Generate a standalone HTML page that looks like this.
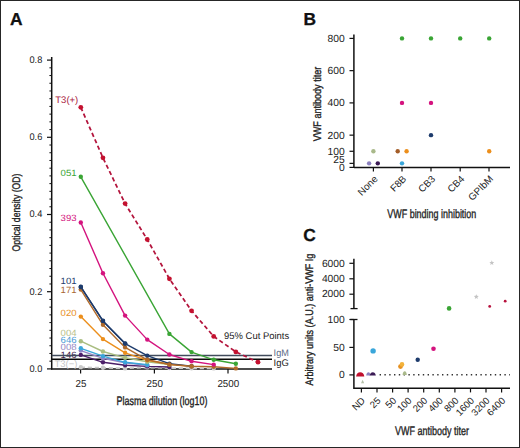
<!DOCTYPE html>
<html><head><meta charset="utf-8"><style>
html,body{margin:0;padding:0;background:#fff;}
svg{display:block;}
text{font-family:"Liberation Sans", sans-serif;text-rendering:geometricPrecision;}
</style></head><body>
<svg width="520" height="448" viewBox="0 0 520 448" font-family='"Liberation Sans", sans-serif'>
<rect x="0" y="0" width="520" height="448" fill="#fff"/>
<text x="9.9" y="24.8" font-size="17.4" font-weight="bold" fill="#111" stroke="#111" stroke-width="0.3">A</text>
<line x1="51.7" y1="57" x2="51.7" y2="369.59999999999997" stroke="#111" stroke-width="1.5"/>
<line x1="47" y1="368.90" x2="51.7" y2="368.90" stroke="#111" stroke-width="1.2"/>
<line x1="49.4" y1="361.18" x2="51.7" y2="361.18" stroke="#111" stroke-width="1"/>
<line x1="49.4" y1="353.46" x2="51.7" y2="353.46" stroke="#111" stroke-width="1"/>
<line x1="49.4" y1="345.74" x2="51.7" y2="345.74" stroke="#111" stroke-width="1"/>
<line x1="49.4" y1="338.02" x2="51.7" y2="338.02" stroke="#111" stroke-width="1"/>
<line x1="49.4" y1="330.30" x2="51.7" y2="330.30" stroke="#111" stroke-width="1"/>
<line x1="49.4" y1="322.58" x2="51.7" y2="322.58" stroke="#111" stroke-width="1"/>
<line x1="49.4" y1="314.86" x2="51.7" y2="314.86" stroke="#111" stroke-width="1"/>
<line x1="49.4" y1="307.14" x2="51.7" y2="307.14" stroke="#111" stroke-width="1"/>
<line x1="49.4" y1="299.42" x2="51.7" y2="299.42" stroke="#111" stroke-width="1"/>
<line x1="47" y1="291.70" x2="51.7" y2="291.70" stroke="#111" stroke-width="1.2"/>
<line x1="49.4" y1="283.98" x2="51.7" y2="283.98" stroke="#111" stroke-width="1"/>
<line x1="49.4" y1="276.26" x2="51.7" y2="276.26" stroke="#111" stroke-width="1"/>
<line x1="49.4" y1="268.54" x2="51.7" y2="268.54" stroke="#111" stroke-width="1"/>
<line x1="49.4" y1="260.82" x2="51.7" y2="260.82" stroke="#111" stroke-width="1"/>
<line x1="49.4" y1="253.10" x2="51.7" y2="253.10" stroke="#111" stroke-width="1"/>
<line x1="49.4" y1="245.38" x2="51.7" y2="245.38" stroke="#111" stroke-width="1"/>
<line x1="49.4" y1="237.66" x2="51.7" y2="237.66" stroke="#111" stroke-width="1"/>
<line x1="49.4" y1="229.94" x2="51.7" y2="229.94" stroke="#111" stroke-width="1"/>
<line x1="49.4" y1="222.22" x2="51.7" y2="222.22" stroke="#111" stroke-width="1"/>
<line x1="47" y1="214.50" x2="51.7" y2="214.50" stroke="#111" stroke-width="1.2"/>
<line x1="49.4" y1="206.78" x2="51.7" y2="206.78" stroke="#111" stroke-width="1"/>
<line x1="49.4" y1="199.06" x2="51.7" y2="199.06" stroke="#111" stroke-width="1"/>
<line x1="49.4" y1="191.34" x2="51.7" y2="191.34" stroke="#111" stroke-width="1"/>
<line x1="49.4" y1="183.62" x2="51.7" y2="183.62" stroke="#111" stroke-width="1"/>
<line x1="49.4" y1="175.90" x2="51.7" y2="175.90" stroke="#111" stroke-width="1"/>
<line x1="49.4" y1="168.18" x2="51.7" y2="168.18" stroke="#111" stroke-width="1"/>
<line x1="49.4" y1="160.46" x2="51.7" y2="160.46" stroke="#111" stroke-width="1"/>
<line x1="49.4" y1="152.74" x2="51.7" y2="152.74" stroke="#111" stroke-width="1"/>
<line x1="49.4" y1="145.02" x2="51.7" y2="145.02" stroke="#111" stroke-width="1"/>
<line x1="47" y1="137.30" x2="51.7" y2="137.30" stroke="#111" stroke-width="1.2"/>
<line x1="49.4" y1="129.58" x2="51.7" y2="129.58" stroke="#111" stroke-width="1"/>
<line x1="49.4" y1="121.86" x2="51.7" y2="121.86" stroke="#111" stroke-width="1"/>
<line x1="49.4" y1="114.14" x2="51.7" y2="114.14" stroke="#111" stroke-width="1"/>
<line x1="49.4" y1="106.42" x2="51.7" y2="106.42" stroke="#111" stroke-width="1"/>
<line x1="49.4" y1="98.70" x2="51.7" y2="98.70" stroke="#111" stroke-width="1"/>
<line x1="49.4" y1="90.98" x2="51.7" y2="90.98" stroke="#111" stroke-width="1"/>
<line x1="49.4" y1="83.26" x2="51.7" y2="83.26" stroke="#111" stroke-width="1"/>
<line x1="49.4" y1="75.54" x2="51.7" y2="75.54" stroke="#111" stroke-width="1"/>
<line x1="49.4" y1="67.82" x2="51.7" y2="67.82" stroke="#111" stroke-width="1"/>
<line x1="47" y1="60.10" x2="51.7" y2="60.10" stroke="#111" stroke-width="1.2"/>
<text x="42.3" y="371.70" font-size="9.7" text-anchor="end" textLength="12.8" lengthAdjust="spacingAndGlyphs" fill="#222">0.0</text>
<text x="42.3" y="294.50" font-size="9.7" text-anchor="end" textLength="12.8" lengthAdjust="spacingAndGlyphs" fill="#222">0.2</text>
<text x="42.3" y="217.30" font-size="9.7" text-anchor="end" textLength="12.8" lengthAdjust="spacingAndGlyphs" fill="#222">0.4</text>
<text x="42.3" y="140.10" font-size="9.7" text-anchor="end" textLength="12.8" lengthAdjust="spacingAndGlyphs" fill="#222">0.6</text>
<text x="42.3" y="62.90" font-size="9.7" text-anchor="end" textLength="12.8" lengthAdjust="spacingAndGlyphs" fill="#222">0.8</text>
<text transform="translate(20.2,212.5) rotate(-90)" font-size="11" text-anchor="middle" textLength="78" lengthAdjust="spacingAndGlyphs" fill="#222" stroke="#222" stroke-width="0.35">Optical density (OD)</text>
<text x="116.6" y="404.6" font-size="12.3" textLength="90.8" lengthAdjust="spacingAndGlyphs" fill="#222" stroke="#222" stroke-width="0.35">Plasma dilution (log10)</text>
<line x1="51.0" y1="368.9" x2="272" y2="368.9" stroke="#111" stroke-width="1.5"/>
<line x1="80.6" y1="368.9" x2="80.6" y2="373.6" stroke="#111" stroke-width="1.2"/>
<text x="80.89999999999999" y="386.7" font-size="10.1" text-anchor="middle" textLength="10.9" lengthAdjust="spacingAndGlyphs" fill="#222">25</text>
<line x1="154.4" y1="368.9" x2="154.4" y2="373.6" stroke="#111" stroke-width="1.2"/>
<text x="154.70000000000002" y="386.7" font-size="10.1" text-anchor="middle" textLength="16.4" lengthAdjust="spacingAndGlyphs" fill="#222">250</text>
<line x1="228.0" y1="368.9" x2="228.0" y2="373.6" stroke="#111" stroke-width="1.2"/>
<text x="228.3" y="386.7" font-size="10.1" text-anchor="middle" textLength="21.8" lengthAdjust="spacingAndGlyphs" fill="#222">2500</text>
<text x="55.3" y="103.2" font-size="9.5" fill="#a8163a">T3(+)</text>
<text x="60.6" y="175.6" font-size="9.1" textLength="16" lengthAdjust="spacingAndGlyphs" fill="#3aa535">051</text>
<text x="60.6" y="220.9" font-size="9.1" textLength="16" lengthAdjust="spacingAndGlyphs" fill="#d4137e">393</text>
<text x="60.6" y="293.2" font-size="9.1" textLength="16" lengthAdjust="spacingAndGlyphs" fill="#a86630">171</text>
<text x="60.6" y="284.3" font-size="9.1" textLength="16" lengthAdjust="spacingAndGlyphs" fill="#1d3b6c">101</text>
<text x="60.6" y="315.6" font-size="9.1" textLength="16" lengthAdjust="spacingAndGlyphs" fill="#e8901e">020</text>
<text x="60.6" y="335.6" font-size="9.1" textLength="16" lengthAdjust="spacingAndGlyphs" fill="#b9c08a">004</text>
<text x="60.6" y="342.8" font-size="9.1" textLength="16" lengthAdjust="spacingAndGlyphs" fill="#4a9bd6">646</text>
<text x="60.6" y="350.2" font-size="9.1" textLength="16" lengthAdjust="spacingAndGlyphs" fill="#9487c4">008</text>
<text x="60.6" y="357.9" font-size="9.1" textLength="16" lengthAdjust="spacingAndGlyphs" fill="#3d2048">146</text>
<text x="54.4" y="366.9" font-size="9.5" fill="#c5c5c5">T3(&#8722;)</text>
<line x1="51.7" y1="355.5" x2="272" y2="355.5" stroke="#414b5c" stroke-width="1.5"/>
<line x1="51.7" y1="359.3" x2="272" y2="359.3" stroke="#0a0a0a" stroke-width="1.5"/>
<text x="273.6" y="355.6" font-size="9.6" textLength="15.2" lengthAdjust="spacingAndGlyphs" fill="#5a6b85">IgM</text>
<text x="273.6" y="365.7" font-size="9.6" textLength="15.2" lengthAdjust="spacingAndGlyphs" fill="#1a1a1a">IgG</text>
<text x="224.0" y="339.2" font-size="9.6" textLength="65.2" lengthAdjust="spacingAndGlyphs" fill="#222">95% Cut Points</text>
<polyline points="80.80,367.30 102.95,367.70 125.10,368.40 147.25,367.40 169.40,368.10 191.55,368.30 213.70,368.40" fill="none" stroke="#c9c9c9" stroke-width="1.75" stroke-dasharray="4.2,2.8"/>
<circle cx="80.80" cy="367.30" r="2.2" fill="#c9c9c9"/>
<circle cx="102.95" cy="367.70" r="2.2" fill="#c9c9c9"/>
<circle cx="125.10" cy="368.40" r="2.2" fill="#c9c9c9"/>
<circle cx="147.25" cy="367.40" r="2.2" fill="#c9c9c9"/>
<circle cx="169.40" cy="368.10" r="2.2" fill="#c9c9c9"/>
<circle cx="191.55" cy="368.30" r="2.2" fill="#c9c9c9"/>
<circle cx="213.70" cy="368.40" r="2.2" fill="#c9c9c9"/>
<polyline points="80.80,354.90 102.95,362.30 125.10,365.20 147.25,366.40 169.40,367.00" fill="none" stroke="#4b1e68" stroke-width="1.4" stroke-linejoin="round"/>
<circle cx="80.80" cy="354.90" r="2.2" fill="#4b1e68"/>
<circle cx="102.95" cy="362.30" r="2.2" fill="#4b1e68"/>
<circle cx="125.10" cy="365.20" r="2.2" fill="#4b1e68"/>
<circle cx="147.25" cy="366.40" r="2.2" fill="#4b1e68"/>
<circle cx="169.40" cy="367.00" r="2.2" fill="#4b1e68"/>
<polyline points="80.80,350.60 102.95,358.30 125.10,362.80 147.25,365.30" fill="none" stroke="#9184c6" stroke-width="1.4" stroke-linejoin="round"/>
<circle cx="80.80" cy="350.60" r="2.2" fill="#9184c6"/>
<circle cx="102.95" cy="358.30" r="2.2" fill="#9184c6"/>
<circle cx="125.10" cy="362.80" r="2.2" fill="#9184c6"/>
<circle cx="147.25" cy="365.30" r="2.2" fill="#9184c6"/>
<polyline points="80.80,348.30 102.95,356.10 125.10,362.30 147.25,364.80" fill="none" stroke="#3aa6da" stroke-width="1.4" stroke-linejoin="round"/>
<circle cx="80.80" cy="348.30" r="2.2" fill="#3aa6da"/>
<circle cx="102.95" cy="356.10" r="2.2" fill="#3aa6da"/>
<circle cx="125.10" cy="362.30" r="2.2" fill="#3aa6da"/>
<circle cx="147.25" cy="364.80" r="2.2" fill="#3aa6da"/>
<polyline points="80.80,341.20 102.95,351.50 125.10,357.80 147.25,361.80 169.40,364.50" fill="none" stroke="#a9bd80" stroke-width="1.4" stroke-linejoin="round"/>
<circle cx="80.80" cy="341.20" r="2.2" fill="#a9bd80"/>
<circle cx="102.95" cy="351.50" r="2.2" fill="#a9bd80"/>
<circle cx="125.10" cy="357.80" r="2.2" fill="#a9bd80"/>
<circle cx="147.25" cy="361.80" r="2.2" fill="#a9bd80"/>
<circle cx="169.40" cy="364.50" r="2.2" fill="#a9bd80"/>
<polyline points="80.80,316.60 102.95,339.10 125.10,352.80 147.25,360.30 169.40,364.20 191.55,366.40" fill="none" stroke="#ec8f1c" stroke-width="1.4" stroke-linejoin="round"/>
<circle cx="80.80" cy="316.60" r="2.2" fill="#ec8f1c"/>
<circle cx="102.95" cy="339.10" r="2.2" fill="#ec8f1c"/>
<circle cx="125.10" cy="352.80" r="2.2" fill="#ec8f1c"/>
<circle cx="147.25" cy="360.30" r="2.2" fill="#ec8f1c"/>
<circle cx="169.40" cy="364.20" r="2.2" fill="#ec8f1c"/>
<circle cx="191.55" cy="366.40" r="2.2" fill="#ec8f1c"/>
<polyline points="80.80,286.90 102.95,320.90 125.10,343.60 147.25,355.70 169.40,363.60 191.55,366.20" fill="none" stroke="#1d3b6c" stroke-width="1.4" stroke-linejoin="round"/>
<circle cx="80.80" cy="286.90" r="2.2" fill="#1d3b6c"/>
<circle cx="102.95" cy="320.90" r="2.2" fill="#1d3b6c"/>
<circle cx="125.10" cy="343.60" r="2.2" fill="#1d3b6c"/>
<circle cx="147.25" cy="355.70" r="2.2" fill="#1d3b6c"/>
<circle cx="169.40" cy="363.60" r="2.2" fill="#1d3b6c"/>
<circle cx="191.55" cy="366.20" r="2.2" fill="#1d3b6c"/>
<polyline points="80.80,289.60 102.95,324.80 125.10,347.40 147.25,359.80 169.40,364.50 191.55,366.20 213.70,366.80 235.85,368.40" fill="none" stroke="#b06a2a" stroke-width="1.4" stroke-linejoin="round"/>
<circle cx="80.80" cy="289.60" r="2.2" fill="#b06a2a"/>
<circle cx="102.95" cy="324.80" r="2.2" fill="#b06a2a"/>
<circle cx="125.10" cy="347.40" r="2.2" fill="#b06a2a"/>
<circle cx="147.25" cy="359.80" r="2.2" fill="#b06a2a"/>
<circle cx="169.40" cy="364.50" r="2.2" fill="#b06a2a"/>
<circle cx="191.55" cy="366.20" r="2.2" fill="#b06a2a"/>
<circle cx="213.70" cy="366.80" r="2.2" fill="#b06a2a"/>
<circle cx="235.85" cy="368.40" r="2.2" fill="#b06a2a"/>
<polyline points="80.80,222.50 102.95,273.20 125.10,315.60 147.25,339.60 169.40,354.50 191.55,361.30 213.70,364.60" fill="none" stroke="#d4137e" stroke-width="1.4" stroke-linejoin="round"/>
<circle cx="80.80" cy="222.50" r="2.2" fill="#d4137e"/>
<circle cx="102.95" cy="273.20" r="2.2" fill="#d4137e"/>
<circle cx="125.10" cy="315.60" r="2.2" fill="#d4137e"/>
<circle cx="147.25" cy="339.60" r="2.2" fill="#d4137e"/>
<circle cx="169.40" cy="354.50" r="2.2" fill="#d4137e"/>
<circle cx="191.55" cy="361.30" r="2.2" fill="#d4137e"/>
<circle cx="213.70" cy="364.60" r="2.2" fill="#d4137e"/>
<polyline points="80.80,176.80 169.40,333.90 191.55,352.10 213.70,359.80 235.85,363.80" fill="none" stroke="#3aa535" stroke-width="1.4" stroke-linejoin="round"/>
<circle cx="80.80" cy="176.80" r="2.2" fill="#3aa535"/>
<circle cx="169.40" cy="333.90" r="2.2" fill="#3aa535"/>
<circle cx="191.55" cy="352.10" r="2.2" fill="#3aa535"/>
<circle cx="213.70" cy="359.80" r="2.2" fill="#3aa535"/>
<circle cx="235.85" cy="363.80" r="2.2" fill="#3aa535"/>
<polyline points="80.80,107.30 102.95,157.80 125.10,203.60 147.25,239.50 169.40,278.80 191.55,310.80 213.70,336.40 235.85,351.90 258.00,362.20" fill="none" stroke="#b3143c" stroke-width="1.75" stroke-dasharray="4.2,2.8"/>
<circle cx="80.80" cy="107.30" r="2.4" fill="#c4112f"/>
<circle cx="102.95" cy="157.80" r="2.4" fill="#c4112f"/>
<circle cx="125.10" cy="203.60" r="2.4" fill="#c4112f"/>
<circle cx="147.25" cy="239.50" r="2.4" fill="#c4112f"/>
<circle cx="169.40" cy="278.80" r="2.4" fill="#c4112f"/>
<circle cx="191.55" cy="310.80" r="2.4" fill="#c4112f"/>
<circle cx="213.70" cy="336.40" r="2.4" fill="#c4112f"/>
<circle cx="235.85" cy="351.90" r="2.4" fill="#c4112f"/>
<circle cx="258.00" cy="362.20" r="2.4" fill="#c4112f"/>
<polyline points="80.80,286.90 102.95,320.90 125.10,343.60" fill="none" stroke="#1d3b6c" stroke-width="1.5" stroke-linejoin="round"/>
<circle cx="80.80" cy="286.90" r="2.3" fill="#1d3b6c"/>
<circle cx="102.95" cy="320.90" r="2.3" fill="#1d3b6c"/>
<circle cx="125.10" cy="343.60" r="2.3" fill="#1d3b6c"/>
<text x="303.6" y="24.8" font-size="17.4" font-weight="bold" fill="#111" stroke="#111" stroke-width="0.3">B</text>
<line x1="353.9" y1="34.5" x2="353.9" y2="168.1" stroke="#111" stroke-width="1.5"/>
<line x1="353.9" y1="167.4" x2="510" y2="167.4" stroke="#111" stroke-width="1.5"/>
<line x1="349.5" y1="38.40" x2="353.9" y2="38.40" stroke="#111" stroke-width="1.2"/>
<line x1="349.5" y1="70.65" x2="353.9" y2="70.65" stroke="#111" stroke-width="1.2"/>
<line x1="349.5" y1="102.90" x2="353.9" y2="102.90" stroke="#111" stroke-width="1.2"/>
<line x1="349.5" y1="135.15" x2="353.9" y2="135.15" stroke="#111" stroke-width="1.2"/>
<line x1="349.5" y1="151.28" x2="353.9" y2="151.28" stroke="#111" stroke-width="1.2"/>
<line x1="349.5" y1="163.37" x2="353.9" y2="163.37" stroke="#111" stroke-width="1.2"/>
<line x1="349.5" y1="167.40" x2="353.9" y2="167.40" stroke="#111" stroke-width="1.2"/>
<text x="344.8" y="41.90" font-size="10.3" text-anchor="end" fill="#222">800</text>
<text x="344.8" y="74.30" font-size="10.3" text-anchor="end" fill="#222">600</text>
<text x="344.8" y="106.20" font-size="10.3" text-anchor="end" fill="#222">400</text>
<text x="344.8" y="138.90" font-size="10.3" text-anchor="end" fill="#222">200</text>
<text x="344.8" y="154.70" font-size="10.3" text-anchor="end" fill="#222">100</text>
<text x="344.8" y="162.90" font-size="10.3" text-anchor="end" fill="#222">25</text>
<text x="344.8" y="170.60" font-size="10.3" text-anchor="end" fill="#222">0</text>
<text transform="translate(320.6,104) rotate(-90)" font-size="11" text-anchor="middle" textLength="74.5" lengthAdjust="spacingAndGlyphs" fill="#222" stroke="#222" stroke-width="0.35">VWF antibody titer</text>
<text x="387.3" y="217.8" font-size="12.3" textLength="89" lengthAdjust="spacingAndGlyphs" fill="#222" stroke="#222" stroke-width="0.35">VWF binding inhibition</text>
<line x1="373.4" y1="167.4" x2="373.4" y2="171.6" stroke="#111" stroke-width="1.2"/>
<text transform="translate(378.3,179.5) rotate(-45)" font-size="9.85" text-anchor="end" fill="#222">None</text>
<line x1="402.0" y1="167.4" x2="402.0" y2="171.6" stroke="#111" stroke-width="1.2"/>
<text transform="translate(406.9,179.5) rotate(-45)" font-size="9.85" text-anchor="end" fill="#222">F8B</text>
<line x1="431.0" y1="167.4" x2="431.0" y2="171.6" stroke="#111" stroke-width="1.2"/>
<text transform="translate(435.9,179.5) rotate(-45)" font-size="9.85" text-anchor="end" fill="#222">CB3</text>
<line x1="460.2" y1="167.4" x2="460.2" y2="171.6" stroke="#111" stroke-width="1.2"/>
<text transform="translate(465.1,179.5) rotate(-45)" font-size="9.85" text-anchor="end" fill="#222">CB4</text>
<line x1="489.0" y1="167.4" x2="489.0" y2="171.6" stroke="#111" stroke-width="1.2"/>
<text transform="translate(493.9,179.5) rotate(-45)" font-size="9.85" text-anchor="end" fill="#222">GPIbM</text>
<circle cx="373.4" cy="151.28" r="2.2" fill="#a9b98a"/>
<circle cx="369.1" cy="163.37" r="2.2" fill="#8b80bf"/>
<circle cx="377.8" cy="163.37" r="2.2" fill="#3b1b55"/>
<circle cx="402" cy="38.40" r="2.2" fill="#3aa535"/>
<circle cx="402" cy="102.90" r="2.2" fill="#d4137e"/>
<circle cx="397.7" cy="151.28" r="2.2" fill="#a35d28"/>
<circle cx="406.6" cy="151.28" r="2.2" fill="#ec8f1c"/>
<circle cx="402" cy="163.37" r="2.2" fill="#3aa6da"/>
<circle cx="431" cy="38.40" r="2.2" fill="#3aa535"/>
<circle cx="431" cy="102.90" r="2.2" fill="#d4137e"/>
<circle cx="431" cy="135.15" r="2.2" fill="#1d3b6c"/>
<circle cx="460.2" cy="38.40" r="2.2" fill="#3aa535"/>
<circle cx="489.2" cy="38.40" r="2.2" fill="#3aa535"/>
<circle cx="489.2" cy="151.28" r="2.2" fill="#ec8f1c"/>
<text x="303.3" y="240.6" font-size="17.4" font-weight="bold" fill="#111" stroke="#111" stroke-width="0.3">C</text>
<line x1="353.9" y1="258.7" x2="353.9" y2="308.6" stroke="#111" stroke-width="1.5"/>
<line x1="350.5" y1="308.6" x2="357.6" y2="308.6" stroke="#111" stroke-width="1.3"/>
<line x1="349.4" y1="263.3" x2="353.9" y2="263.3" stroke="#111" stroke-width="1.2"/>
<text x="344.8" y="266.5" font-size="10.3" text-anchor="end" fill="#222">6000</text>
<line x1="349.4" y1="278.8" x2="353.9" y2="278.8" stroke="#111" stroke-width="1.2"/>
<text x="344.8" y="282.0" font-size="10.3" text-anchor="end" fill="#222">4000</text>
<line x1="349.4" y1="294.2" x2="353.9" y2="294.2" stroke="#111" stroke-width="1.2"/>
<text x="344.8" y="297.4" font-size="10.3" text-anchor="end" fill="#222">2000</text>
<line x1="353.9" y1="319.5" x2="353.9" y2="388.9" stroke="#111" stroke-width="1.5"/>
<line x1="350.3" y1="319.5" x2="357.5" y2="319.5" stroke="#111" stroke-width="1.3"/>
<line x1="349.4" y1="319.5" x2="353.9" y2="319.5" stroke="#111" stroke-width="1.2"/>
<text x="344.8" y="322.7" font-size="10.3" text-anchor="end" fill="#222">100</text>
<line x1="349.4" y1="347.4" x2="353.9" y2="347.4" stroke="#111" stroke-width="1.2"/>
<text x="344.8" y="350.6" font-size="10.3" text-anchor="end" fill="#222">50</text>
<line x1="349.4" y1="374.9" x2="353.9" y2="374.9" stroke="#111" stroke-width="1.2"/>
<text x="344.8" y="378.1" font-size="10.3" text-anchor="end" fill="#222">0</text>
<line x1="353.9" y1="388.2" x2="510" y2="388.2" stroke="#111" stroke-width="1.5"/>
<line x1="361.4" y1="388.2" x2="361.4" y2="392.4" stroke="#111" stroke-width="1.2"/>
<text transform="translate(365.7,401.3) rotate(-45)" font-size="9.6" text-anchor="end" fill="#222">ND</text>
<line x1="377.0" y1="388.2" x2="377.0" y2="392.4" stroke="#111" stroke-width="1.2"/>
<text transform="translate(381.3,401.3) rotate(-45)" font-size="9.6" text-anchor="end" fill="#222">25</text>
<line x1="392.6" y1="388.2" x2="392.6" y2="392.4" stroke="#111" stroke-width="1.2"/>
<text transform="translate(396.9,401.3) rotate(-45)" font-size="9.6" text-anchor="end" fill="#222">50</text>
<line x1="408.1" y1="388.2" x2="408.1" y2="392.4" stroke="#111" stroke-width="1.2"/>
<text transform="translate(412.4,401.3) rotate(-45)" font-size="9.6" text-anchor="end" fill="#222">100</text>
<line x1="423.7" y1="388.2" x2="423.7" y2="392.4" stroke="#111" stroke-width="1.2"/>
<text transform="translate(428.0,401.3) rotate(-45)" font-size="9.6" text-anchor="end" fill="#222">200</text>
<line x1="439.3" y1="388.2" x2="439.3" y2="392.4" stroke="#111" stroke-width="1.2"/>
<text transform="translate(443.6,401.3) rotate(-45)" font-size="9.6" text-anchor="end" fill="#222">400</text>
<line x1="454.9" y1="388.2" x2="454.9" y2="392.4" stroke="#111" stroke-width="1.2"/>
<text transform="translate(459.2,401.3) rotate(-45)" font-size="9.6" text-anchor="end" fill="#222">800</text>
<line x1="470.5" y1="388.2" x2="470.5" y2="392.4" stroke="#111" stroke-width="1.2"/>
<text transform="translate(474.8,401.3) rotate(-45)" font-size="9.6" text-anchor="end" fill="#222">1600</text>
<line x1="486.0" y1="388.2" x2="486.0" y2="392.4" stroke="#111" stroke-width="1.2"/>
<text transform="translate(490.3,401.3) rotate(-45)" font-size="9.6" text-anchor="end" fill="#222">3200</text>
<line x1="501.6" y1="388.2" x2="501.6" y2="392.4" stroke="#111" stroke-width="1.2"/>
<text transform="translate(505.9,401.3) rotate(-45)" font-size="9.6" text-anchor="end" fill="#222">6400</text>
<text transform="translate(313.2,319.6) rotate(-90)" font-size="11" text-anchor="middle" textLength="132" lengthAdjust="spacingAndGlyphs" fill="#222" stroke="#222" stroke-width="0.35">Arbitrary units (A.U.) anti-VWF Ig</text>
<text x="395" y="434.6" font-size="12.3" textLength="74" lengthAdjust="spacingAndGlyphs" fill="#222" stroke="#222" stroke-width="0.35">VWF antibody titer</text>
<line x1="379.6" y1="374.8" x2="510" y2="374.8" stroke="#333" stroke-width="1.4" stroke-dasharray="1.4,3.4"/>
<path d="M356.1,376.4 Q356.8,372.2 360.2,372.2 Q363.6,372.2 364.3,376.4 Z" fill="#c0102e"/>
<path d="M366.2,375.6 Q366.6,372.3 368.6,372.3 Q370.4,372.5 370.2,375.6 Z" fill="#8b80c0"/>
<path d="M369.6,375.6 Q370.4,372.2 372.8,372.2 Q375.2,372.2 375.9,375.6 Z" fill="#3b1b55"/>
<path d="M361.0,383.2 L362.6,379.8 L364.2,383.2 Z" fill="#b4c0a8"/>
<circle cx="373.1" cy="350.9" r="2.7" fill="#3aa6da"/>
<circle cx="400.5" cy="366.6" r="2.4" fill="#e69020"/>
<circle cx="402.0" cy="364.4" r="2.3" fill="#f3b23a"/>
<path d="M402.6,374.9 Q402.9,371.2 404.7,371.2 Q406.5,371.2 406.8,374.9 Z" fill="#a9b98a"/>
<circle cx="417.7" cy="359.8" r="2.2" fill="#1d3b6c"/>
<circle cx="433.5" cy="348.8" r="2.3" fill="#d4137e"/>
<circle cx="449.1" cy="308.4" r="2.3" fill="#3aa535"/>
<circle cx="489.7" cy="306.4" r="1.4" fill="#b8123e"/>
<circle cx="505.2" cy="301.2" r="1.4" fill="#b8123e"/>
<polygon points="476.30,294.20 476.99,295.85 478.77,296.00 477.41,297.16 477.83,298.90 476.30,297.97 474.77,298.90 475.19,297.16 473.83,296.00 475.61,295.85" fill="#c4c4c4"/>
<polygon points="491.80,260.30 492.49,261.95 494.27,262.10 492.91,263.26 493.33,265.00 491.80,264.07 490.27,265.00 490.69,263.26 489.33,262.10 491.11,261.95" fill="#c4c4c4"/>
<rect x="0.5" y="0.5" width="519" height="447" fill="none" stroke="#262626" stroke-width="1"/>
</svg>
</body></html>
